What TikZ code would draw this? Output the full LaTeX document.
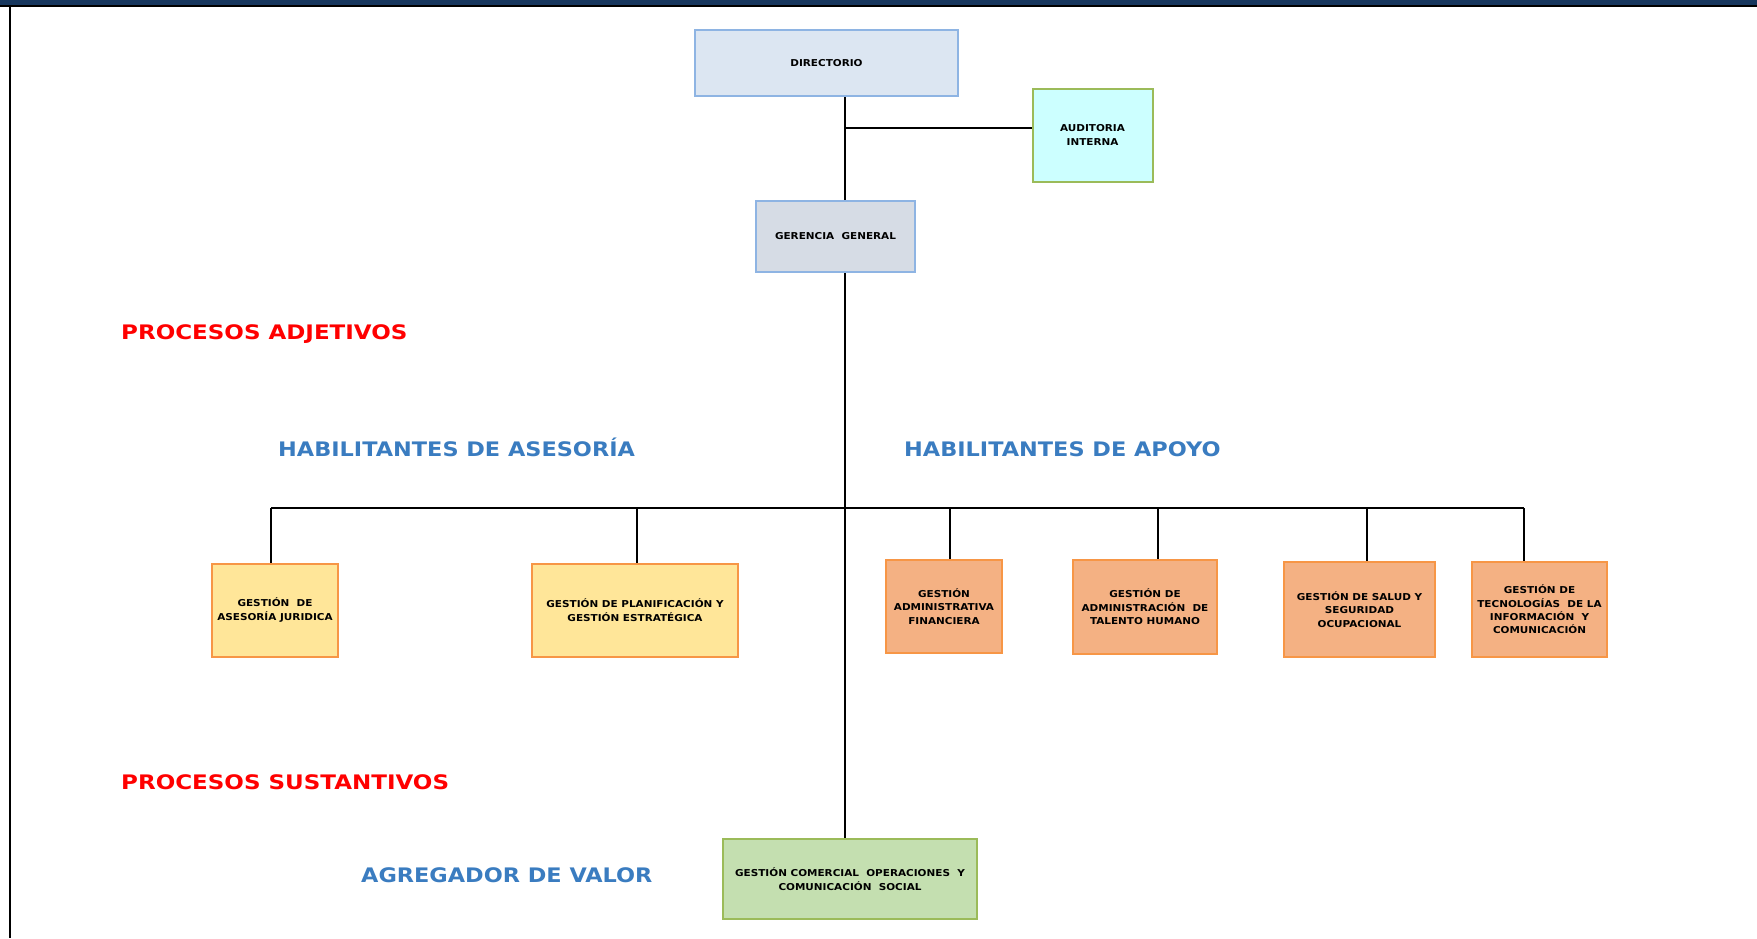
\documentclass[tikz,border=0pt]{standalone}
\usepackage{fontspec}
\setmainfont{DejaVu Sans}
\newfontfamily\redfont[FakeStretch=1.15]{DejaVu Sans}
\newfontfamily\bluefont[FakeStretch=1.12]{DejaVu Sans}
\newfontfamily\boxfont[FakeStretch=1.1]{DejaVu Sans}
\usetikzlibrary{backgrounds}
\definecolor{navy}{HTML}{17375E}
\definecolor{dirfill}{HTML}{DCE6F2}
\definecolor{blueline}{HTML}{8EB4E3}
\definecolor{audfill}{HTML}{CCFFFF}
\definecolor{greenline}{HTML}{9BBB59}
\definecolor{gerfill}{HTML}{D6DCE5}
\definecolor{yelfill}{HTML}{FFE699}
\definecolor{orline}{HTML}{F79646}
\definecolor{salfill}{HTML}{F4B183}
\definecolor{grnfill}{HTML}{C4DFB0}
\definecolor{redtxt}{HTML}{FF0000}
\definecolor{bluetxt}{HTML}{3A7CC0}
\tikzset{
  box/.style={draw, line width=2pt, inner sep=0pt, align=center,
    font=\boxfont\fontsize{9.5}{13.4}\selectfont\bfseries},
  dirbox/.style={box, draw=blueline, fill=dirfill},
  audbox/.style={box, draw=greenline, fill=audfill},
  gerbox/.style={box, draw=blueline, fill=gerfill},
  yelbox/.style={box, draw=orline, fill=yelfill},
  salbox/.style={box, draw=orline, fill=salfill},
  grnbox/.style={box, draw=greenline, fill=grnfill},
  conn/.style={draw=black, line width=2pt},
  redlbl/.style={anchor=base west, inner sep=0pt, text=redtxt, font=\redfont\fontsize{20}{24}\selectfont\bfseries},
  bluelbl/.style={anchor=base west, inner sep=0pt, text=bluetxt, font=\bluefont\fontsize{20}{24}\selectfont\bfseries},
}
\begin{document}
\begin{tikzpicture}[x=1pt,y=-1pt]
\useasboundingbox (0,0) rectangle (1757,938);
% frame
\fill[navy] (0,0) rectangle (1757,4.5);
\draw[line width=2pt] (0,5.5) -- (1757,5.5);
\draw[line width=2.5pt] (10,5) -- (10,938);

% nodes
\node[dirbox, minimum width=263pt, minimum height=66pt] (dir) at (826.5,63) {DIRECTORIO};
\node[audbox, minimum width=120pt, minimum height=93pt] (aud) at (1092.5,135) {AUDITORIA\\INTERNA};
\node[gerbox, minimum width=159pt, minimum height=71pt] (ger) at (835.5,236.5) {GERENCIA\ \ GENERAL};

\node[yelbox, minimum width=126pt, minimum height=93pt] (ase) at (275,610) {GESTIÓN\ \ DE\\ASESORÍA JURIDICA};
\node[yelbox, minimum width=206pt, minimum height=93pt] (pla) at (635,610) {GESTIÓN DE PLANIFICACIÓN Y\\GESTIÓN ESTRATÉGICA};
\node[salbox, minimum width=116pt, minimum height=93pt] (adm) at (944,606.5) {GESTIÓN\\ADMINISTRATIVA\\FINANCIERA};
\node[salbox, minimum width=144pt, minimum height=94pt] (tal) at (1145,607) {GESTIÓN DE\\ADMINISTRACIÓN\ \ DE\\TALENTO HUMANO};
\node[salbox, minimum width=151pt, minimum height=95pt] (sal) at (1359.5,609.5) {GESTIÓN DE SALUD Y\\SEGURIDAD\\OCUPACIONAL};
\node[salbox, minimum width=135pt, minimum height=95pt] (tic) at (1539.5,609.5) {GESTIÓN DE\\TECNOLOGÍAS\ \ DE LA\\INFORMACIÓN\ \ Y\\COMUNICACIÓN};

\node[grnbox, minimum width=254pt, minimum height=80pt] (val) at (850,879) {GESTIÓN COMERCIAL\ \ OPERACIONES\ \ Y\\COMUNICACIÓN\ \ SOCIAL};

% labels
\node[redlbl] (padj) at (121,339.5) {PROCESOS ADJETIVOS};
\node[bluelbl] (hase) at (278,456) {HABILITANTES DE ASESORÍA};
\node[bluelbl] (hapo) at (904,456) {HABILITANTES DE APOYO};
\node[redlbl] (psus) at (121,789.5) {PROCESOS SUSTANTIVOS};
\node[bluelbl] (agr) at (361,882) {AGREGADOR DE VALOR};

% connector helpers
\coordinate (tx) at (845,0);
\coordinate (audy) at (0,128);
\coordinate (bus) at (0,507.5);

\begin{pgfonlayer}{background}
\draw[conn] (dir.south -| tx) -- (val.north -| tx);
\draw[conn] (tx |- audy) -- (aud.west |- audy);
\draw[conn] ([xshift=-4pt]ase.north |- bus) -- ([xshift=-16pt]tic.north |- bus);
\draw[conn] ([xshift=-4pt]ase.north) -- ([xshift=-4pt]ase.north |- bus);
\draw[conn] ([xshift=2pt]pla.north) -- ([xshift=2pt]pla.north |- bus);
\draw[conn] ([xshift=6pt]adm.north) -- ([xshift=6pt]adm.north |- bus);
\draw[conn] ([xshift=13pt]tal.north) -- ([xshift=13pt]tal.north |- bus);
\draw[conn] ([xshift=7.5pt]sal.north) -- ([xshift=7.5pt]sal.north |- bus);
\draw[conn] ([xshift=-16pt]tic.north) -- ([xshift=-16pt]tic.north |- bus);
\end{pgfonlayer}
\end{tikzpicture}
\end{document}
